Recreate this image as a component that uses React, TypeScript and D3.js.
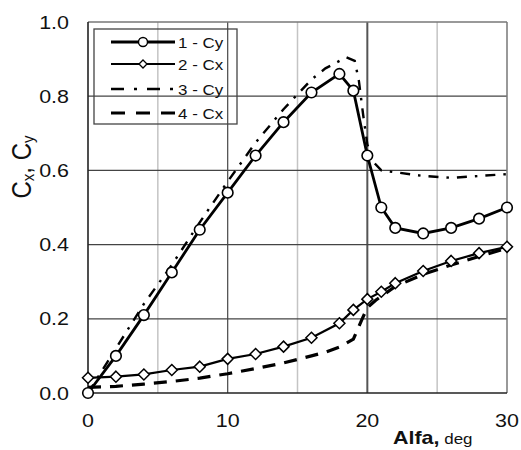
import React from "react";
import * as d3 from "d3";

const alpha1 = [0, 2, 4, 6, 8, 10, 12, 14, 16, 18, 19, 20, 21, 22, 24, 26, 28, 30];
const cy1 = [0.0, 0.10, 0.21, 0.325, 0.44, 0.54, 0.64, 0.73, 0.81, 0.86, 0.815, 0.64, 0.50, 0.445, 0.43, 0.445, 0.47, 0.50];

const alpha2 = [0, 2, 4, 6, 8, 10, 12, 14, 16, 18, 19, 20, 21, 22, 24, 26, 28, 30];
const cx2 = [0.041, 0.044, 0.05, 0.062, 0.071, 0.092, 0.105, 0.125, 0.149, 0.188, 0.224, 0.253, 0.273, 0.296, 0.329, 0.356, 0.377, 0.394];

const alpha3 = [0, 2, 4, 6, 8, 10, 12, 14, 16, 17, 18.5, 19.1, 19.4, 19.7, 20, 20.5, 21, 22, 24, 26, 28, 30];
const cy3 = [0.0, 0.12, 0.24, 0.345, 0.46, 0.57, 0.675, 0.765, 0.845, 0.875, 0.905, 0.895, 0.84, 0.75, 0.67, 0.62, 0.6, 0.595, 0.585, 0.58, 0.585, 0.59];

const alpha4 = [0, 2, 4, 6, 8, 10, 12, 14, 16, 17, 18, 19, 19.6, 20, 20.6, 22, 24, 26, 28, 30];
const cx4 = [0.015, 0.018, 0.024, 0.031, 0.04, 0.052, 0.066, 0.081, 0.1, 0.11, 0.124, 0.145, 0.197, 0.23, 0.25, 0.287, 0.32, 0.345, 0.368, 0.39];

const xTicks = [0, 10, 20, 30];
const yTicks = [0, 0.2, 0.4, 0.6, 0.8, 1.0];
const xMinorGrid = [5, 15, 25];
const legendLabels = ["1 - Cy", "2 - Cx", "3 - Cy", "4 - Cx"];

const FONT = "Arial, 'Liberation Sans', Helvetica, sans-serif";
const SX = 1.13;

function T({ x, y, size, anchor = "start", weight = "normal", children }: any) {
  return (
    <text
      transform={`translate(${x},${y}) scale(${SX},1)`}
      fontSize={size}
      fontFamily={FONT}
      textAnchor={anchor}
      fontWeight={weight}
      fill="#111"
    >
      {children}
    </text>
  );
}

export default function App() {
  const x = d3.scaleLinear().domain([0, 30]).range([88, 507]);
  const y = d3.scaleLinear().domain([0, 1]).range([393, 22]);

  const mk = (xs: number[], ys: number[]) =>
    d3.line<number>().x((_, i) => x(xs[i])).y((d) => y(d))(ys) || "";

  const diamond = (cx: number, cy: number, r: number) =>
    `M${cx},${cy - r}L${cx + r},${cy}L${cx},${cy + r}L${cx - r},${cy}Z`;

  const legX0 = 111, legX1 = 175;
  const legY = [42, 64, 89, 113];

  return (
    <svg width={521} height={450} style={{ position: "absolute", left: 0, top: 0, background: "#fff" }}>
      <rect x={0} y={0} width={521} height={450} fill="#fff" />
      {/* minor vertical grid */}
      {xMinorGrid.map((v) => (
        <line key={"mg" + v} x1={x(v)} x2={x(v)} y1={y(1)} y2={y(0)} stroke="#c4c4c4" strokeWidth={1.5} />
      ))}
      {/* major vertical grid */}
      {[10, 20].map((v) => (
        <line key={"vg" + v} x1={x(v)} x2={x(v)} y1={y(1)} y2={y(0)} stroke="#555" strokeWidth={v === 20 ? 2 : 1.3} />
      ))}
      {/* horizontal grid */}
      {[0.2, 0.4, 0.6, 0.8].map((v) => (
        <line key={"hg" + v} x1={x(0)} x2={x(30)} y1={y(v)} y2={y(v)} stroke="#444" strokeWidth={1.3} />
      ))}
      {/* frame */}
      <line x1={x(0)} x2={x(30)} y1={y(1)} y2={y(1)} stroke="#777" strokeWidth={1.5} />
      <line x1={x(30)} x2={x(30)} y1={y(1)} y2={y(0)} stroke="#777" strokeWidth={1.5} />
      <line x1={x(0)} x2={x(0)} y1={y(1)} y2={y(0)} stroke="#222" strokeWidth={1.6} />
      <line x1={x(0)} x2={x(30)} y1={y(0)} y2={y(0)} stroke="#222" strokeWidth={1.6} />

      {/* series lines */}
      <path d={mk(alpha4, cx4)} fill="none" stroke="#000" strokeWidth={3.2} strokeDasharray="13,9" />
      <path d={mk(alpha3, cy3)} fill="none" stroke="#000" strokeWidth={2.4} strokeDasharray="10,8,2.5,8" />
      <path d={mk(alpha2, cx2)} fill="none" stroke="#000" strokeWidth={2.2} />
      <path d={mk(alpha1, cy1)} fill="none" stroke="#000" strokeWidth={2.8} />

      {/* markers */}
      {alpha2.map((a, i) => (
        <path key={"d" + i} d={diamond(x(a), y(cx2[i]), 5.5)} fill="#fff" stroke="#000" strokeWidth={1.5} />
      ))}
      {alpha1.map((a, i) => (
        <circle key={"c" + i} cx={x(a)} cy={y(cy1[i])} r={5.3} fill="#fff" stroke="#000" strokeWidth={1.6} />
      ))}

      {/* legend */}
      <rect x={94} y={29} width={143} height={95} fill="none" stroke="#444" strokeWidth={1.3} />
      <line x1={legX0} x2={legX1} y1={legY[0]} y2={legY[0]} stroke="#000" strokeWidth={2.8} />
      <circle cx={(legX0 + legX1) / 2} cy={legY[0]} r={4.5} fill="#fff" stroke="#000" strokeWidth={1.4} />
      <line x1={legX0} x2={legX1} y1={legY[1]} y2={legY[1]} stroke="#000" strokeWidth={2.2} />
      <path d={diamond((legX0 + legX1) / 2, legY[1], 4)} fill="#fff" stroke="#000" strokeWidth={1.3} />
      <line x1={legX0} x2={legX1} y1={legY[2]} y2={legY[2]} stroke="#000" strokeWidth={2.4} strokeDasharray="13,10,3,10" />
      <line x1={legX0} x2={legX1} y1={legY[3]} y2={legY[3]} stroke="#000" strokeWidth={3.2} strokeDasharray="14,11" />
      {legendLabels.map((l, i) => (
        <T key={"l" + i} x={178} y={legY[i] + 5.5} size={15}>{l}</T>
      ))}

      {/* y tick labels */}
      {yTicks.map((v) => (
        <T key={"yt" + v} x={69} y={y(v) + 6.5} size={19} anchor="end">{v.toFixed(1)}</T>
      ))}
      {/* x tick labels */}
      {xTicks.map((v) => (
        <T key={"xt" + v} x={x(v)} y={427} size={19} anchor="middle">{String(v)}</T>
      ))}

      {/* axis titles */}
      <text
        transform={`translate(31,167) rotate(-90) scale(1,${SX})`}
        fontSize={24}
        fontFamily={FONT}
        textAnchor="middle"
        fill="#111"
      >
        C<tspan fontSize={15} dy={3}>x</tspan>
        <tspan dy={-3}>, C</tspan>
        <tspan fontSize={15} dy={3}>y</tspan>
      </text>
      <text transform={`translate(393,444) scale(${SX},1)`} fontFamily={FONT} fill="#111">
        <tspan fontSize={19} fontWeight="bold">Alfa,</tspan>
        <tspan fontSize={15}> deg</tspan>
      </text>
    </svg>
  );
}
